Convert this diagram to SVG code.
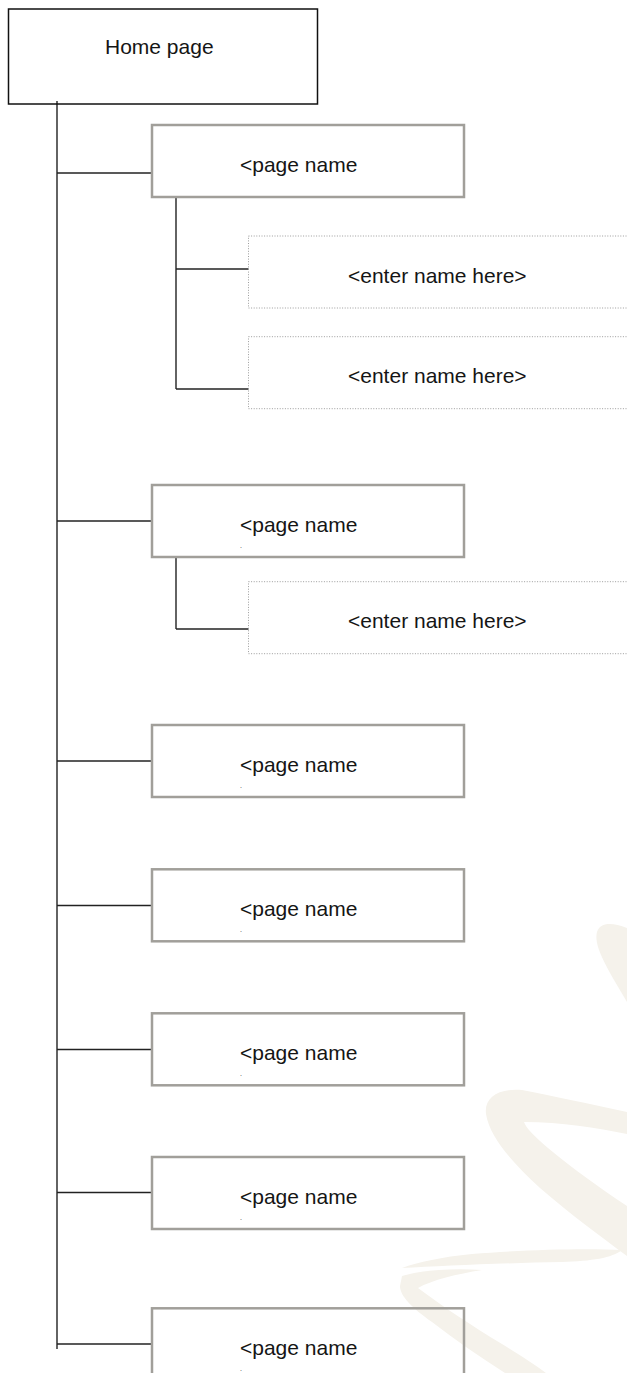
<svg xmlns="http://www.w3.org/2000/svg" width="627" height="1373" viewBox="0 0 627 1373">
  <style>
    .label { font-family: "Liberation Sans", Arial, sans-serif; font-size: 21px; fill: #151515; }
    .dot { font-family: "Liberation Sans", Arial, sans-serif; font-size: 7px; fill: #333; }
    .home { fill: none; stroke: #111; stroke-width: 1.5; }
    .page { fill: none; stroke: #a19f9a; stroke-width: 2.5; }
    .sub { fill: none; stroke: #9c9c9c; stroke-width: 1; stroke-dasharray: 1 1.6; }
    .link { fill: none; stroke: #222; stroke-width: 1.4; }
    .wm { fill: #f5f2eb; }
  </style>

  <rect width="627" height="1373" fill="#ffffff"/>

  <!-- faint brush-stroke watermark -->
  <g id="watermark">
    <path class="wm" d="M627 928 C612 922 600 922 597 932 C594 944 603 960 614 980 L627 1002 Z"/>
    <path class="wm" d="M627 1112 C590 1104 552 1096 522 1090 C498 1088 484 1098 486 1114 C490 1138 512 1162 540 1188 C570 1214 600 1236 627 1256 L627 1206 C600 1188 572 1168 548 1148 C534 1136 526 1128 524 1122 C562 1122 596 1128 627 1134 Z"/>
    <path class="wm" d="M622 1250 C582 1248 522 1250 472 1254 C442 1257 418 1262 402 1268 C442 1266 502 1263 562 1262 C592 1261 612 1258 622 1250 Z"/>
    <path class="wm" d="M402 1276 C422 1270 452 1268 482 1270 C457 1274 432 1280 418 1288 C442 1306 472 1326 502 1344 C520 1355 534 1364 546 1373 L505 1373 C480 1357 455 1340 432 1322 C412 1308 400 1296 400 1286 Z"/>
  </g>

  <!-- connector lines -->
  <g id="connectors">
    <line class="link" x1="57" y1="101" x2="57" y2="1349"/>
    <line class="link" x1="57" y1="173" x2="152" y2="173"/>
    <line class="link" x1="57" y1="521" x2="152" y2="521"/>
    <line class="link" x1="57" y1="761" x2="152" y2="761"/>
    <line class="link" x1="57" y1="905.5" x2="152" y2="905.5"/>
    <line class="link" x1="57" y1="1049.5" x2="152" y2="1049.5"/>
    <line class="link" x1="57" y1="1192.5" x2="152" y2="1192.5"/>
    <line class="link" x1="57" y1="1344" x2="152" y2="1344"/>
    <line class="link" x1="176" y1="197" x2="176" y2="389"/>
    <line class="link" x1="176" y1="269" x2="248.5" y2="269"/>
    <line class="link" x1="176" y1="389" x2="248.5" y2="389"/>
    <line class="link" x1="176" y1="557" x2="176" y2="629"/>
    <line class="link" x1="176" y1="629" x2="248.5" y2="629"/>
  </g>

  <g id="home">
    <rect class="home" x="8.5" y="9" width="309" height="95"/>
    <text class="label" x="105" y="54">Home page</text>
  </g>

  <g id="page1">
    <rect class="page" x="152" y="125" width="312" height="72"/>
    <text class="label" x="240" y="171.7">&lt;page name</text>
  </g>
  <g id="sub1a">
    <rect class="sub" x="248.5" y="236" width="400" height="72"/>
    <text class="label" x="348" y="282.7">&lt;enter name here&gt;</text>
  </g>
  <g id="sub1b">
    <rect class="sub" x="248.5" y="336.7" width="400" height="72"/>
    <text class="label" x="348" y="383.4">&lt;enter name here&gt;</text>
  </g>

  <g id="page2">
    <rect class="page" x="152" y="485" width="312" height="72"/>
    <text class="label" x="240" y="531.7">&lt;page name</text>
    <text class="dot" x="240" y="548">.</text>
  </g>
  <g id="sub2a">
    <rect class="sub" x="248.5" y="581.7" width="400" height="72"/>
    <text class="label" x="348" y="628.4">&lt;enter name here&gt;</text>
  </g>

  <g id="page3">
    <rect class="page" x="152" y="725" width="312" height="72"/>
    <text class="label" x="240" y="771.7">&lt;page name</text>
    <text class="dot" x="240" y="788">.</text>
  </g>
  <g id="page4">
    <rect class="page" x="152" y="869.3" width="312" height="72"/>
    <text class="label" x="240" y="916">&lt;page name</text>
    <text class="dot" x="240" y="932.3">.</text>
  </g>
  <g id="page5">
    <rect class="page" x="152" y="1013.3" width="312" height="72"/>
    <text class="label" x="240" y="1060">&lt;page name</text>
    <text class="dot" x="240" y="1076.3">.</text>
  </g>
  <g id="page6">
    <rect class="page" x="152" y="1157" width="312" height="72"/>
    <text class="label" x="240" y="1203.7">&lt;page name</text>
    <text class="dot" x="240" y="1220">.</text>
  </g>
  <g id="page7">
    <rect class="page" x="152" y="1308.3" width="312" height="72"/>
    <text class="label" x="240" y="1355">&lt;page name</text>
    <text class="dot" x="240" y="1371.3">.</text>
  </g>
</svg>
